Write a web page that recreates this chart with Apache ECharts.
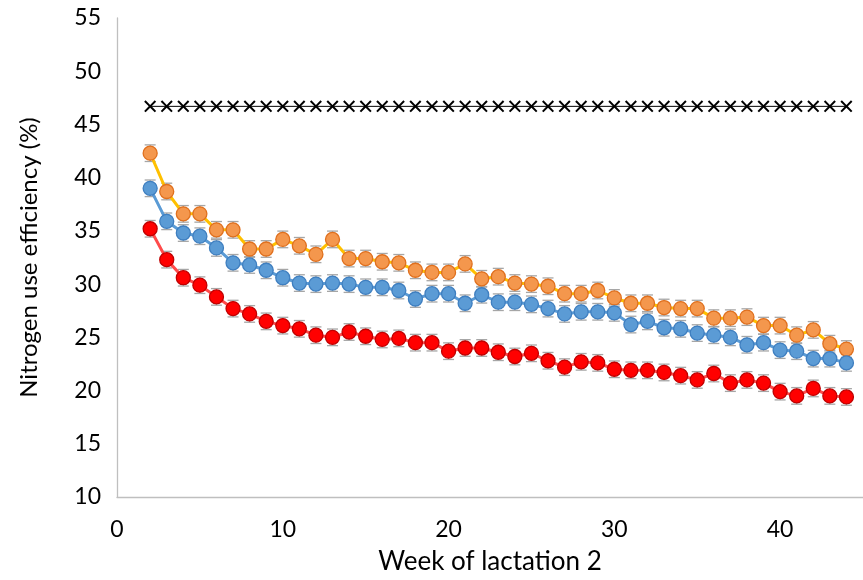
<!DOCTYPE html>
<html>
<head>
<meta charset="utf-8">
<script src="https://cdn.jsdelivr.net/npm/echarts@6/dist/echarts.min.js"></script>
<style>html,body{margin:0;padding:0;background:#fff}#c{width:863px;height:580px}</style>
</head>
<body>
<div id="c"></div>
<script>
const weeks = [2,3,4,5,6,7,8,9,10,11,12,13,14,15,16,17,18,19,20,21,22,23,24,25,26,27,28,29,30,31,32,33,34,35,36,37,38,39,40,41,42,43,44];
const orangeVals = [42.3,38.7,36.6,36.6,35.1,35.1,33.3,33.3,34.2,33.6,32.8,34.2,32.4,32.4,32.1,32.0,31.3,31.1,31.1,31.9,30.5,30.7,30.1,30.0,29.8,29.1,29.1,29.4,28.7,28.2,28.2,27.8,27.7,27.7,26.8,26.8,26.9,26.1,26.1,25.2,25.7,24.4,23.9];
const blueVals = [39.0,35.9,34.8,34.5,33.4,32.0,31.8,31.3,30.6,30.1,30.0,30.1,30.0,29.7,29.7,29.4,28.6,29.1,29.1,28.2,29.0,28.3,28.3,28.1,27.7,27.2,27.4,27.4,27.3,26.2,26.5,25.9,25.8,25.4,25.2,25.0,24.3,24.5,23.8,23.7,23.0,23.0,22.6];
const redVals = [35.2,32.3,30.6,29.9,28.8,27.7,27.2,26.5,26.1,25.8,25.2,25.0,25.5,25.1,24.8,24.9,24.5,24.5,23.7,24.0,24.0,23.6,23.2,23.5,22.8,22.2,22.7,22.6,22.0,21.9,21.9,21.7,21.4,21.0,21.6,20.7,21.0,20.7,19.9,19.5,20.2,19.5,19.4];
const refVals = [46.7,46.7,46.7,46.7,46.7,46.7,46.7,46.7,46.7,46.7,46.7,46.7,46.7,46.7,46.7,46.7,46.7,46.7,46.7,46.7,46.7,46.7,46.7,46.7,46.7,46.7,46.7,46.7,46.7,46.7,46.7,46.7,46.7,46.7,46.7,46.7,46.7,46.7,46.7,46.7,46.7,46.7,46.7];
const errorSE = 0.78;
const xTicks = [0,10,20,30,40];
const yTicks = [10,15,20,25,30,35,40,45,50,55];

const FONT = 'Lato, "Open Sans", sans-serif';
const pts = v => weeks.map((w,i)=>[w, v[i]]);

function errSeries(vals, z){
  return {
    type:'custom', z:z, silent:true,
    data: weeks.map((w,i)=>[w, vals[i]-errorSE, vals[i]+errorSE]),
    renderItem:function(params, api){
      const lo = api.coord([api.value(0), api.value(1)]);
      const hi = api.coord([api.value(0), api.value(2)]);
      const hw = 5.5;
      const st = {stroke:'#A6A6A6', lineWidth:1.3};
      return {type:'group', children:[
        {type:'line', shape:{x1:lo[0],y1:lo[1],x2:hi[0],y2:hi[1]}, style:st},
        {type:'line', shape:{x1:lo[0]-hw,y1:lo[1],x2:lo[0]+hw,y2:lo[1]}, style:st},
        {type:'line', shape:{x1:hi[0]-hw,y1:hi[1],x2:hi[0]+hw,y2:hi[1]}, style:st}
      ]};
    }
  };
}
function lineSeries(vals, lineColor, fill, border, z){
  return {
    type:'line', z:z, data: pts(vals), symbol:'circle', symbolSize:14,
    lineStyle:{color:lineColor, width:3},
    itemStyle:{color:fill, borderColor:border, borderWidth:1.3},
    emphasis:{disabled:true}, animation:false
  };
}
const crossPath = 'path://M0,1.2L1.2,0L5,3.8L8.8,0L10,1.2L6.2,5L10,8.8L8.8,10L5,6.2L1.2,10L0,8.8L3.8,5Z';

const chart = echarts.init(document.getElementById('c'));
chart.setOption({
  animation:false,
  grid:{left:117, right:0, top:18, bottom:83, containLabel:false},
  xAxis:{
    type:'value', min:0, max:45, interval:10,
    axisLine:{show:true, onZero:false, lineStyle:{color:'#BFBFBF', width:1.3}},
    axisTick:{show:false}, splitLine:{show:false},
    axisLabel:{fontFamily:FONT, fontSize:23, color:'#000', margin:21, showMaxLabel:false,
      formatter:v=>xTicks.includes(v)?String(v):''},
    name:'Week of lactation 2', nameLocation:'middle', nameGap:52,
    nameTextStyle:{fontFamily:FONT, fontSize:26, color:'#000'}
  },
  yAxis:{
    type:'value', min:10, max:55, interval:5,
    axisLine:{show:true, lineStyle:{color:'#BFBFBF', width:1.3}},
    axisTick:{show:false}, splitLine:{show:false},
    axisLabel:{fontFamily:FONT, fontSize:23, color:'#000', margin:16,
      formatter:v=>yTicks.includes(v)?String(v):''},
    name:'Nitrogen use efficiency (%)', nameLocation:'middle', nameGap:76,
    nameTextStyle:{fontFamily:FONT, fontSize:24, color:'#000'}
  },
  series:[
    {type:'line', z:5, data:pts(refVals), symbol:crossPath, symbolSize:12,
      lineStyle:{color:'#000', width:1}, itemStyle:{color:'#000'}, emphasis:{disabled:true}},
    errSeries(orangeVals, 2), errSeries(blueVals, 2), errSeries(redVals, 2),
    lineSeries(orangeVals, '#FFC000', '#F4974D', '#E0701E', 4),
    lineSeries(blueVals, '#5B9BD5', '#5B9BD5', '#3F7FC0', 4),
    lineSeries(redVals, '#FF4B4B', '#FF0000', '#C00000', 4)
  ]
});
</script>
</body>
</html>
